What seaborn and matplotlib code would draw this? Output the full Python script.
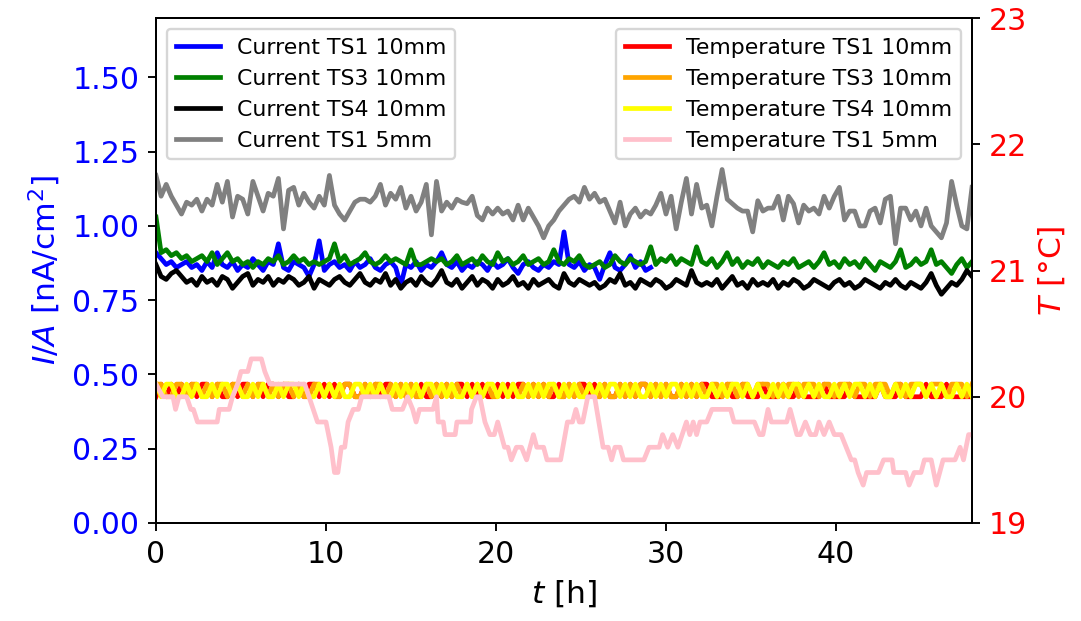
import numpy as np
import pandas as pd
import matplotlib
matplotlib.use("Agg")
import matplotlib.pyplot as plt
import seaborn as sns

# ---------------- data ----------------
# sample grid of the logger (every 0.3 h)
time_h = np.round(np.arange(161) * 0.3, 1)

cur_ts1_10 = [0.91, 0.89, 0.87, 0.88, 0.86, 0.87, 0.88, 0.86, 0.87, 0.85,
              0.88, 0.86, 0.91, 0.87, 0.86, 0.88, 0.85, 0.87, 0.86, 0.89,
              0.87, 0.85, 0.88, 0.87, 0.94, 0.86, 0.85, 0.88, 0.87, 0.86,
              0.83, 0.87, 0.95, 0.85, 0.87, 0.88, 0.86, 0.87, 0.85, 0.88,
              0.86, 0.87, 0.89, 0.86, 0.85, 0.87, 0.88, 0.86, 0.80, 0.87,
              0.86, 0.88, 0.85, 0.87, 0.86, 0.88,
              0.91, 0.87, 0.86, 0.88, 0.85, 0.87, 0.86, 0.88, 0.87, 0.85,
              0.88, 0.86, 0.87, 0.89, 0.86, 0.84, 0.87, 0.88, 0.86, 0.85,
              0.87, 0.86, 0.88, 0.87, 0.98, 0.87, 0.86, 0.88, 0.85, 0.87,
              0.86, 0.82, 0.87, 0.91, 0.86, 0.85, 0.87, 0.90, 0.86, 0.88,
              0.85, 0.86]

cur_ts3_10 = [1.03, 0.91,
              0.92, 0.90, 0.91, 0.89, 0.90, 0.88, 0.89, 0.90, 0.88, 0.91,
              0.87, 0.89, 0.91, 0.88, 0.89, 0.87, 0.88, 0.86, 0.88, 0.87,
              0.89, 0.88, 0.90, 0.87, 0.88, 0.90, 0.88, 0.89, 0.87, 0.88,
              0.87, 0.88, 0.89, 0.94, 0.88, 0.90, 0.87, 0.88, 0.89, 0.91,
              0.88, 0.87, 0.88, 0.90, 0.88, 0.89, 0.88, 0.87, 0.92, 0.87,
              0.87, 0.88, 0.89, 0.88,
              0.89, 0.87, 0.88, 0.90, 0.87, 0.88, 0.89, 0.87, 0.90, 0.88,
              0.87, 0.91, 0.88, 0.89, 0.87, 0.88, 0.90, 0.87, 0.88, 0.89,
              0.87, 0.88, 0.92, 0.88, 0.87, 0.89, 0.88, 0.90, 0.87, 0.86,
              0.87, 0.88, 0.86, 0.87, 0.90, 0.88, 0.87, 0.89, 0.88, 0.87,
              0.88, 0.93, 0.87, 0.89, 0.88, 0.90, 0.87, 0.89, 0.88, 0.87,
              0.93, 0.88,
              0.87, 0.89, 0.86, 0.88, 0.91, 0.87, 0.89, 0.86, 0.88, 0.87,
              0.89, 0.86, 0.88, 0.87, 0.86, 0.88, 0.87, 0.89, 0.86, 0.87,
              0.88, 0.86, 0.88, 0.91, 0.87, 0.88, 0.86, 0.89, 0.87, 0.88,
              0.86, 0.89, 0.87, 0.85, 0.88, 0.87, 0.86, 0.88, 0.92, 0.86,
              0.87, 0.89, 0.87, 0.88, 0.92, 0.87, 0.88, 0.86, 0.84, 0.87,
              0.89, 0.86, 0.88]

cur_ts4_10 = [0.87, 0.83, 0.82, 0.84, 0.85, 0.83, 0.81, 0.82, 0.80, 0.83,
              0.81, 0.82, 0.80, 0.83, 0.82, 0.79, 0.81, 0.83, 0.84, 0.80,
              0.82, 0.81, 0.83, 0.80, 0.82, 0.81, 0.83, 0.82, 0.80, 0.81,
              0.83, 0.79, 0.82, 0.81, 0.80, 0.82, 0.83, 0.81, 0.80, 0.82,
              0.84, 0.81, 0.80, 0.82, 0.81, 0.84, 0.80, 0.82, 0.79, 0.81,
              0.82, 0.80, 0.83, 0.81, 0.80, 0.82,
              0.85, 0.81, 0.80, 0.82, 0.79, 0.81, 0.83, 0.80, 0.82, 0.81,
              0.79, 0.82, 0.80, 0.81, 0.83, 0.80, 0.81, 0.79, 0.82, 0.80,
              0.81, 0.82, 0.80, 0.79, 0.84, 0.81, 0.80, 0.82, 0.81, 0.80,
              0.81, 0.79, 0.80, 0.82, 0.81, 0.84, 0.80, 0.81, 0.79, 0.82,
              0.81, 0.80, 0.82, 0.81, 0.79, 0.80, 0.82, 0.81, 0.80, 0.85,
              0.81, 0.80,
              0.81, 0.80, 0.82, 0.79, 0.81, 0.83, 0.80, 0.81, 0.79, 0.82,
              0.80, 0.81, 0.80, 0.82, 0.79, 0.81, 0.80, 0.82, 0.81, 0.79,
              0.80, 0.82, 0.81, 0.80, 0.79, 0.81, 0.82, 0.80, 0.81, 0.79,
              0.80, 0.82, 0.81, 0.80, 0.79, 0.81, 0.80, 0.82, 0.80, 0.79,
              0.81, 0.80, 0.79, 0.81, 0.84, 0.80, 0.77, 0.79, 0.81, 0.80,
              0.82, 0.85, 0.83]

cur_ts1_5 = [1.17, 1.10, 1.14, 1.10, 1.07, 1.04, 1.08, 1.07, 1.09, 1.05,
             1.09, 1.07, 1.14, 1.08, 1.15, 1.03, 1.10, 1.09, 1.04, 1.15,
             1.10, 1.05, 1.11, 1.10, 1.16, 0.99, 1.12, 1.13, 1.07, 1.11,
             1.08, 1.06, 1.10, 1.07, 1.17, 1.07, 1.04, 1.02, 1.05, 1.08,
             1.09, 1.09, 1.08, 1.10, 1.14, 1.07, 1.11, 1.09, 1.13, 1.06,
             1.10, 1.05, 1.08, 1.14, 0.97, 1.15,
             1.05, 1.08, 1.06, 1.09, 1.08, 1.075, 1.10, 1.035, 1.02, 1.06,
             1.04, 1.06, 1.04, 1.05, 1.02, 1.07, 1.02, 1.06, 1.03, 1.00,
             0.96, 1.00, 1.02, 1.05, 1.07, 1.09, 1.10, 1.08, 1.13, 1.09,
             1.11, 1.08, 1.09, 1.05, 1.01, 1.08, 1.00, 1.04, 1.06, 1.03,
             1.05, 1.04, 1.07, 1.11, 1.04, 1.10, 0.99, 1.08, 1.16, 1.04,
             1.14, 1.06,
             1.07, 1.00, 1.10, 1.19, 1.09, 1.075, 1.06, 1.05, 1.05, 0.98,
             1.085, 1.05, 1.06, 1.06, 1.10, 1.02, 1.10, 1.075, 1.01, 1.07,
             1.05, 1.06, 1.04, 1.10, 1.06, 1.10, 1.13, 1.02, 1.05, 1.05,
             1.00, 1.00, 1.05, 1.06, 1.01, 1.09, 1.10, 0.94, 1.06, 1.06,
             1.02, 1.05, 1.00, 1.06, 1.00, 0.98, 0.96, 1.01, 1.15, 1.07,
             1.00, 0.99, 1.13]

temp_ts1_10 = [20.0, 20.1, 20.0, 20.1, 20.0, 20.1, 20.0, 20.1, 20.0, 20.1,
               20.1, 20.0, 20.1, 20.0, 20.0, 20.1, 20.0, 20.1, 20.1, 20.0,
               20.1, 20.0, 20.1, 20.1, 20.0, 20.1, 20.0, 20.0, 20.1, 20.0,
               20.1, 20.1, 20.0, 20.1, 20.0, 20.1, 20.0, 20.1, 20.1, 20.0,
               20.0, 20.1, 20.0, 20.1, 20.0, 20.1, 20.1, 20.0, 20.1, 20.0,
               20.1, 20.0, 20.1, 20.0, 20.0, 20.1, 20.0, 20.1, 20.0, 20.1,
               20.1, 20.0, 20.1, 20.0, 20.1, 20.0, 20.0, 20.1, 20.0, 20.1,
               20.0, 20.1, 20.1, 20.0, 20.1, 20.0, 20.1, 20.0, 20.0, 20.1,
               20.0, 20.1, 20.0, 20.1, 20.1, 20.0, 20.1, 20.0, 20.1, 20.0,
               20.0, 20.1, 20.0, 20.1, 20.0, 20.1, 20.1, 20.0, 20.1, 20.0,
               20.1, 20.0, 20.0, 20.1, 20.0, 20.1, 20.0, 20.1, 20.1, 20.0,
               20.0, 20.0, 20.1, 20.0, 20.0, 20.1, 20.0, 20.0, 20.0, 20.1,
               20.0, 20.0, 20.0, 20.1, 20.0, 20.0, 20.1, 20.0, 20.0, 20.0,
               20.0, 20.1, 20.0, 20.0, 20.0, 20.0, 20.1, 20.0, 20.0, 20.0,
               20.0, 20.0, 20.1, 20.0, 20.0, 20.0, 20.1, 20.0, 20.0, 20.0,
               20.0, 20.1, 20.0, 20.0, 20.0, 20.1, 20.0, 20.0, 20.0, 20.0,
               20.0]

temp_ts3_10 = [20.1, 20.1, 20.0, 20.0, 20.1, 20.1, 20.0, 20.1, 20.1, 20.0,
               20.1, 20.0, 20.1, 20.1, 20.0, 20.1, 20.1, 20.0, 20.1, 20.0,
               20.1, 20.1, 20.0, 20.1, 20.0, 20.1, 20.1, 20.0, 20.1, 20.0,
               20.0, 20.1, 20.1, 20.0, 20.1, 20.0, 20.0, 20.1, 20.1, 20.0,
               20.0, 20.1, 20.0, 20.1, 20.1, 20.0, 20.1, 20.0, 20.1, 20.0,
               20.1, 20.0, 20.0, 20.1, 20.0, 20.1, 20.0, 20.1, 20.0, 20.1,
               20.0, 20.1, 20.0, 20.1, 20.0, 20.1, 20.0, 20.0, 20.1, 20.0,
               20.1, 20.0, 20.1, 20.0, 20.1, 20.0, 20.1, 20.0, 20.1, 20.0,
               20.0, 20.1, 20.0, 20.1, 20.0, 20.1, 20.0, 20.0, 20.1, 20.0,
               20.0, 20.1, 20.0, 20.1, 20.0, 20.1, 20.1, 20.0, 20.1, 20.0,
               20.1, 20.0, 20.0, 20.1, 20.0, 20.1, 20.0, 20.1, 20.0, 20.1,
               20.1, 20.0, 20.1, 20.1, 20.0, 20.1, 20.1, 20.0, 20.1, 20.1,
               20.1, 20.0, 20.1, 20.0, 20.1, 20.1, 20.0, 20.1, 20.1, 20.1,
               20.0, 20.1, 20.1, 20.0, 20.1, 20.1, 20.1, 20.0, 20.1, 20.1,
               20.0, 20.1, 20.1, 20.1, 20.0, 20.1, 20.1, 20.0, 20.1, 20.1,
               20.1, 20.0, 20.1, 20.1, 20.1, 20.0, 20.1, 20.1, 20.1, 20.0,
               20.1]

temp_ts4_10 = [20.1, 20.0, 20.1, 20.1, 20.0, 20.0, 20.1, 20.0, 20.1, 20.0,
               20.0, 20.1, 20.0, 20.1, 20.1, 20.0, 20.1, 20.0, 20.0, 20.1,
               20.0, 20.1, 20.0, 20.0, 20.1, 20.0, 20.1, 20.1, 20.0, 20.1,
               20.0, 20.0, 20.1, 20.0, 20.1, 20.0, 20.1, 20.0, 20.0, 20.1,
               20.1, 20.0, 20.1, 20.0, 20.1, 20.0, 20.0, 20.1, 20.0, 20.1,
               20.0, 20.1, 20.0, 20.1, 20.1, 20.0, 20.1, 20.0, 20.1, 20.0,
               20.0, 20.1, 20.0, 20.1, 20.0, 20.1, 20.1, 20.0, 20.1, 20.0,
               20.1, 20.0, 20.0, 20.1, 20.0, 20.1, 20.0, 20.1, 20.1, 20.0,
               20.1, 20.0, 20.1, 20.0, 20.0, 20.1, 20.0, 20.1, 20.0, 20.1,
               20.1, 20.0, 20.1, 20.0, 20.1, 20.0, 20.0, 20.1, 20.0, 20.1,
               20.0, 20.1, 20.1, 20.0, 20.1, 20.0, 20.1, 20.0, 20.0, 20.1,
               20.0, 20.1, 20.0, 20.1, 20.1, 20.0, 20.1, 20.0, 20.1, 20.0,
               20.0, 20.1, 20.0, 20.1, 20.0, 20.1, 20.1, 20.0, 20.1, 20.0,
               20.1, 20.0, 20.0, 20.1, 20.0, 20.1, 20.0, 20.1, 20.1, 20.0,
               20.1, 20.0, 20.1, 20.0, 20.0, 20.1, 20.0, 20.1, 20.0, 20.1,
               20.1, 20.0, 20.1, 20.0, 20.1, 20.0, 20.0, 20.1, 20.0, 20.1,
               20.0]

# TS1 5mm temperature: readings at its change points
temp_ts1_5_time = [0.0, 0.4, 1.0, 1.15, 1.35, 1.8, 2.05, 2.2, 2.44, 3.6,
                   3.72, 4.3, 4.5, 4.8, 5.0, 5.4, 5.6, 6.2, 6.4, 6.7,
                   8.75, 9.0, 9.5, 10.0, 10.3, 10.5, 10.7, 10.9, 11.1, 11.3,
                   11.6, 11.9, 12.1, 13.7, 13.9, 14.5, 14.8, 15.1, 15.3, 15.5,
                   16.3, 16.5, 16.6, 16.9, 17.0, 17.6, 17.7, 18.5, 18.56, 18.85,
                   19.05, 19.35, 19.64, 19.9, 20.1, 20.3, 20.5, 20.7, 20.9, 21.2,
                   21.5, 21.8, 22.2, 22.4, 22.8, 23.0, 23.8, 24.2, 24.5, 24.7,
                   24.9, 25.1, 25.4, 25.8, 26.3, 26.6, 26.8, 27.0, 27.3, 27.5,
                   28.7, 29.0, 29.6, 29.8, 30.1, 30.4, 30.7, 31.2, 31.4, 31.6,
                   31.8, 32.0, 32.4, 32.7, 33.8, 34.0, 35.2, 35.5, 35.7, 36.0,
                   36.2, 37.1, 37.3, 37.5, 37.7, 37.9, 38.2, 38.5, 38.8, 39.0,
                   39.3, 39.6, 39.9, 40.3, 40.6, 40.9, 41.1, 41.3, 41.6, 41.8,
                   42.5, 42.8, 43.3, 43.4, 44.1, 44.3, 44.6, 45.0, 45.2, 45.6,
                   45.9, 46.3, 47.0, 47.3, 47.5, 47.8, 48.0]
temp_ts1_5 = [20.1, 20.0, 20.0, 19.9, 20.0, 20.0, 19.9, 19.9, 19.8, 19.8,
              19.9, 19.9, 20.0, 20.1, 20.2, 20.2, 20.3, 20.3, 20.2, 20.1,
              20.1, 20.0, 19.8, 19.8, 19.6, 19.4, 19.4, 19.6, 19.6, 19.8,
              19.9, 19.9, 20.0, 20.0, 19.9, 19.9, 20.0, 19.9, 19.8, 19.9,
              19.9, 20.0, 19.8, 19.8, 19.7, 19.7, 19.8, 19.8, 19.9, 20.0,
              20.0, 19.8, 19.7, 19.7, 19.8, 19.7, 19.6, 19.6, 19.5, 19.6,
              19.6, 19.5, 19.7, 19.6, 19.6, 19.5, 19.5, 19.8, 19.8, 19.9,
              19.8, 19.8, 20.0, 20.0, 19.6, 19.6, 19.5, 19.6, 19.6, 19.5,
              19.5, 19.6, 19.6, 19.7, 19.6, 19.7, 19.6, 19.8, 19.7, 19.8,
              19.7, 19.8, 19.8, 19.9, 19.9, 19.8, 19.8, 19.7, 19.7, 19.9,
              19.8, 19.8, 19.9, 19.8, 19.7, 19.7, 19.8, 19.7, 19.7, 19.8,
              19.7, 19.8, 19.7, 19.7, 19.6, 19.5, 19.5, 19.4, 19.3, 19.4,
              19.4, 19.5, 19.5, 19.4, 19.4, 19.3, 19.4, 19.4, 19.5, 19.5,
              19.3, 19.5, 19.5, 19.6, 19.5, 19.7, 19.7]

current_labels = ["Current TS1 10mm", "Current TS3 10mm",
                  "Current TS4 10mm", "Current TS1 5mm"]
temperature_labels = ["Temperature TS1 10mm", "Temperature TS3 10mm",
                      "Temperature TS4 10mm", "Temperature TS1 5mm"]
current_colors = ["blue", "green", "black", "grey"]
temperature_colors = ["red", "orange", "yellow", "pink"]

for name, arr in [("ts3", cur_ts3_10), ("ts4", cur_ts4_10), ("ts1_5", cur_ts1_5),
                  ("t1", temp_ts1_10), ("t3", temp_ts3_10), ("t4", temp_ts4_10)]:
    assert len(arr) == len(time_h), (name, len(arr))
assert len(temp_ts1_5) == len(temp_ts1_5_time)

# ---------------- plot ----------------
DPI = 170
TICK_FS = 12.7
LABEL_FS = 13.3
LEGEND_FS = 9.3

fig = plt.figure(figsize=(1081 / DPI, 621 / DPI), dpi=DPI)
ax = fig.add_axes([156 / 1081, 1 - 523 / 621, (972 - 156) / 1081, (523 - 18) / 621])
ax2 = ax.twinx()

LW = 2.0
current_series = [(time_h[:len(cur_ts1_10)], cur_ts1_10), (time_h, cur_ts3_10),
                  (time_h, cur_ts4_10), (time_h, cur_ts1_5)]
for (tt, yy), lab, col in zip(current_series, current_labels, current_colors):
    sns.lineplot(x=tt, y=yy, ax=ax, color=col, label=lab, linewidth=LW,
                 estimator=None, sort=False)

temp_series = [(time_h, temp_ts1_10), (time_h, temp_ts3_10),
               (time_h, temp_ts4_10), (temp_ts1_5_time, temp_ts1_5)]
for (tt, yy), lab, col in zip(temp_series, temperature_labels, temperature_colors):
    sns.lineplot(x=tt, y=yy, ax=ax2, color=col, label=lab, linewidth=LW,
                 estimator=None, sort=False)

ax.set_xlim(0, 48)
ax.set_ylim(0, 1.7)
ax2.set_ylim(19, 23)
ax.set_yticks([0, 0.25, 0.5, 0.75, 1.0, 1.25, 1.5])
ax2.set_yticks([19, 20, 21, 22, 23])

ax.set_xlabel("$t$ [h]", fontsize=LABEL_FS)
ax.set_ylabel("$I/A$ [nA/cm$^2$]", color="blue", fontsize=LABEL_FS)
ax2.set_ylabel("$T$ [°C]", color="red", fontsize=LABEL_FS)
ax.tick_params(axis="y", labelcolor="blue", labelsize=TICK_FS)
ax.tick_params(axis="x", labelsize=TICK_FS)
ax2.tick_params(axis="y", labelcolor="red", labelsize=TICK_FS)

ax.legend(loc="upper left", fontsize=LEGEND_FS)
ax2.legend(loc="upper right", fontsize=LEGEND_FS)

fig.savefig("out.png", dpi=DPI)
